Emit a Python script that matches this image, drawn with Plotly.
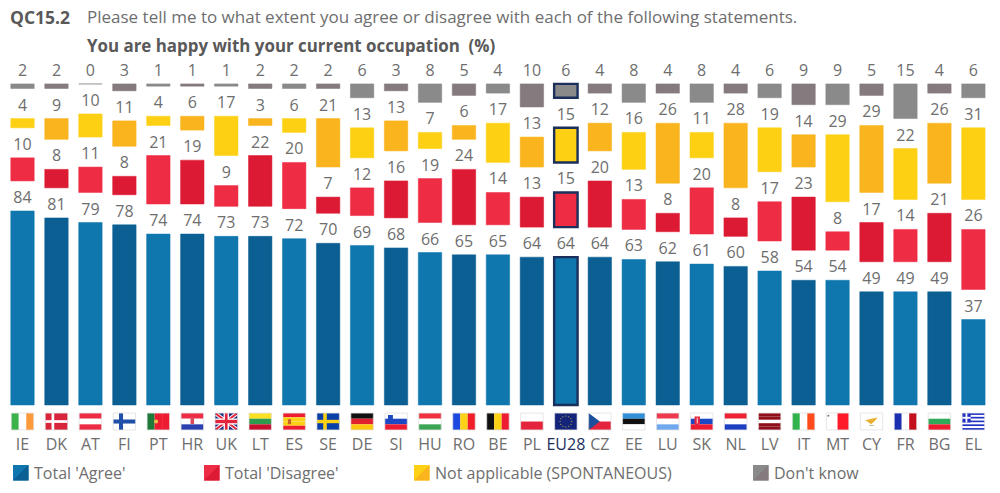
import math
import plotly.graph_objects as go

countries = ["IE","DK","AT","FI","PT","HR","UK","LT","ES","SE","DE","SI","HU","RO","BE","PL","EU28","CZ","EE","LU","SK","NL","LV","IT","MT","CY","FR","BG","EL"]
agree    = [84,81,79,78,74,74,73,73,72,70,69,68,66,65,65,64,64,64,63,62,61,60,58,54,54,49,49,49,37]
disagree = [10,8,11,8,21,19,9,22,20,7,12,16,19,24,14,13,15,20,13,8,20,8,17,23,8,17,14,21,26]
not_app  = [4,9,10,11,4,6,17,3,6,21,13,13,7,6,17,13,15,12,16,26,11,28,19,14,29,29,22,26,31]
dont_know= [2,2,0,3,1,1,1,2,2,2,6,3,8,5,4,10,6,4,8,4,8,4,6,9,9,5,15,4,6]

series_names = ["Total 'Agree'", "Total 'Disagree'", "Not applicable (SPONTANEOUS)", "Don't know"]
light = ["#0f76ae", "#ee2c44", "#fdd014", "#8a8a8a"]
dark  = ["#0b5f92", "#dc1a33", "#f9b41e", "#857a7e"]
EU_COL = "#1b2f5c"
TXT = "#6e6e6e"
FONT = "Open Sans"
GAP = 13.0
PX_PER_UNIT = 2.31
BASE_PX = 405
W, H = 1000, 493
SPACING = 33.96
FIRST_X = 22.5
BAR_W = 0.69

flags = {
 "IE":("v",["#3cb34a","#ffffff","#ff9a3c"]), "DK":("h",["#d9253b"]), "AT":("h",["#ee2b45","#ffffff","#ee2b45"]),
 "FI":("h",["#ffffff"]), "PT":("v",["#1f7a3a","#ee1c30","#ee1c30"]), "HR":("h",["#ee2b45","#ffffff","#2a3fb0"]),
 "UK":("h",["#1a2a7c"]), "LT":("h",["#fbe122","#2e9c4e","#c8102e"]), "ES":("h",["#ee1c30","#fbd116","#fbd116","#ee1c30"]),
 "SE":("h",["#0a3fa8"]), "DE":("h",["#111111","#e0202e","#fdc70c"]), "SI":("h",["#ffffff","#1c48c4","#ee1c30"]),
 "HU":("h",["#f0303c","#ffffff","#3aa655"]), "RO":("v",["#1c48e0","#fdd116","#f01c28"]), "BE":("v",["#111111","#fdd116","#ee1c30"]),
 "PL":("h",["#ffffff","#e4233d"]), "EU28":("h",["#14247a"]), "CZ":("h",["#ffffff","#e4233d"]),
 "EE":("h",["#2f8fd8","#111111","#ffffff"]), "LU":("h",["#ee3a4f","#ffffff","#6fa8ee"]), "SK":("h",["#ffffff","#1c48c4","#ee1c30"]),
 "NL":("h",["#ee2233","#ffffff","#1c3fc4"]), "LV":("h",["#8f0f1a","#8f0f1a","#ffffff","#8f0f1a","#8f0f1a"]),
 "IT":("v",["#2fb34a","#ffffff","#ff4a1c"]), "MT":("v",["#ffffff","#ff1c28"]), "CY":("h",["#ffffff"]),
 "FR":("v",["#1c2fb0","#ffffff","#c4101c"]), "BG":("h",["#ffffff","#2eab58","#ee1c30"]),
 "EL":("h",["#2230c4","#ffffff","#2230c4","#ffffff","#2230c4","#ffffff","#2230c4","#ffffff","#2230c4"]),
}

series = [agree, disagree, not_app, dont_know]
n = len(countries)
xs = list(range(n))
eu = countries.index("EU28")

fig = go.Figure()
bases = [0] * n
for k, vals in enumerate(series):
    cols = [light[k] if i % 2 == 0 else dark[k] for i in range(n)]
    lcols = [EU_COL if i == eu else ("#b4b4b4" if vals[i] == 0 else cols[i]) for i in range(n)]
    lw = [2.4 if i == eu else (1 if vals[i] == 0 else 0.5) for i in range(n)]
    fig.add_trace(go.Bar(
        x=xs, y=vals, base=bases, width=BAR_W, name=series_names[k], showlegend=False,
        marker=dict(color=cols, line=dict(color=lcols, width=lw)),
        text=vals, textposition="outside", textangle=0, constraintext="none", cliponaxis=False,
        textfont=dict(family=FONT, size=16, color=TXT), hoverinfo="skip",
    ))
    bases = [b + v + GAP for b, v in zip(bases, vals)]

# ----- flags, drawn in data units under the baseline
FL_TOP = -3.5
FL_BOT = -10.8
FL_W = 0.66
shapes = []

def fx(i, u):
    return i - FL_W / 2 + u * FL_W

def fy(v):
    return FL_TOP + v * (FL_BOT - FL_TOP)

def rect(i, u0, v0, u1, v1, col):
    shapes.append(dict(type="rect", xref="x", yref="y", x0=fx(i, u0), x1=fx(i, u1), y0=fy(v0), y1=fy(v1),
                       fillcolor=col, line=dict(width=0), layer="above"))

def poly(i, pts, col):
    p = "M" + " L".join(f"{fx(i,u):.4f},{fy(v):.4f}" for u, v in pts) + " Z"
    shapes.append(dict(type="path", xref="x", yref="y", path=p, fillcolor=col, line=dict(width=0), layer="above"))

def dot(i, u, v, ru, col):
    rv = ru * 1.25
    shapes.append(dict(type="circle", xref="x", yref="y", x0=fx(i, u-ru), x1=fx(i, u+ru), y0=fy(v-rv), y1=fy(v+rv),
                       fillcolor=col, line=dict(width=0), layer="above"))

for i, c in enumerate(countries):
    orient, cols = flags[c]
    m = len(cols)
    for j, col in enumerate(cols):
        if orient == "h":
            rect(i, 0, j/m, 1, (j+1)/m, col)
        else:
            rect(i, j/m, 0, (j+1)/m, 1, col)
    if c == "DK":
        rect(i, 0.28, 0, 0.40, 1, "#ffffff"); rect(i, 0, 0.42, 1, 0.58, "#ffffff")
    if c == "FI":
        rect(i, 0.26, 0, 0.44, 1, "#1f4fa8"); rect(i, 0, 0.38, 1, 0.62, "#1f4fa8")
    if c == "SE":
        rect(i, 0.28, 0, 0.44, 1, "#fdd116"); rect(i, 0, 0.40, 1, 0.60, "#fdd116")
    if c == "UK":
        for w, col in ((0.14, "#ffffff"), (0.07, "#e4233d")):
            poly(i, [(0, w), (w, 0), (1, 1-w), (1-w, 1)], col)
            poly(i, [(1, w), (1-w, 0), (0, 1-w), (w, 1)], col)
        rect(i, 0.38, 0, 0.62, 1, "#ffffff"); rect(i, 0, 0.32, 1, 0.68, "#ffffff")
        rect(i, 0.44, 0, 0.56, 1, "#e4233d"); rect(i, 0, 0.40, 1, 0.60, "#e4233d")
    if c == "PT":
        dot(i, 0.40, 0.5, 0.09, "#e8c04a")
    if c == "HR":
        rect(i, 0.42, 0.25, 0.58, 0.65, "#d84a5a")
    if c == "ES":
        rect(i, 0.22, 0.36, 0.36, 0.66, "#c8602a")
    if c == "SI":
        poly(i, [(0.14, 0.12), (0.36, 0.12), (0.36, 0.42), (0.25, 0.56), (0.14, 0.42)], "#1c48c4")
    if c == "SK":
        poly(i, [(0.18, 0.2), (0.42, 0.2), (0.42, 0.62), (0.30, 0.78), (0.18, 0.62)], "#e4233d")
        rect(i, 0.28, 0.28, 0.32, 0.62, "#ffffff")
    if c == "CZ":
        poly(i, [(0, 0), (0.5, 0.5), (0, 1)], "#1c4f9c")
    if c == "MT":
        dot(i, 0.09, 0.16, 0.045, "#777777")
    if c == "CY":
        poly(i, [(0.22, 0.42), (0.55, 0.32), (0.78, 0.26), (0.62, 0.5), (0.48, 0.66), (0.36, 0.54)], "#e8b030")
        rect(i, 0.4, 0.70, 0.6, 0.76, "#a8c090")
    if c == "EL":
        rect(i, 0, 0, 0.38, 5/9, "#2230c4")
        rect(i, 0.15, 0, 0.23, 5/9, "#ffffff"); rect(i, 0, 2/9, 0.38, 3/9, "#ffffff")
    if c == "EU28":
        for s in range(12):
            t = 2 * math.pi * s / 12
            dot(i, 0.5 + 0.26*math.cos(t), 0.5 + 0.33*math.sin(t), 0.025, "#e8d040")
    shapes.append(dict(type="rect", xref="x", yref="y", x0=fx(i, 0), x1=fx(i, 1), y0=fy(0), y1=fy(1),
                       line=dict(color="#dcdcdc", width=0.7), fillcolor="rgba(0,0,0,0)", layer="above"))

# ----- hand-placed legend and titles, in page fractions
def px(x):
    return x / W

def py(y):
    return 1 - y / H

legend_x = [13, 204, 414, 753]
legend_size = 15.5
annotations = []
for k, name in enumerate(series_names):
    x0, y0 = legend_x[k], 465
    x1, y1 = x0 + legend_size, y0 + legend_size
    shapes.append(dict(type="rect", xref="paper", yref="paper", x0=px(x0), x1=px(x1), y0=py(y0), y1=py(y1),
                       fillcolor=light[k], line=dict(width=0), layer="above"))
    shapes.append(dict(type="path", xref="paper", yref="paper",
                       path=f"M{px(x1):.5f},{py(y0):.5f} L{px(x1):.5f},{py(y1):.5f} L{px(x0):.5f},{py(y1):.5f} Z",
                       fillcolor=dark[k], line=dict(width=0), layer="above"))
    annotations.append(dict(xref="paper", yref="paper", x=px(x1 + 3.5), y=py(473), text=name, showarrow=False,
                            xanchor="left", yanchor="middle", font=dict(family=FONT, size=16, color=TXT)))

annotations += [
    dict(xref="paper", yref="paper", x=px(8), y=py(17), text="<b>QC15.2</b>", showarrow=False, xanchor="left", yanchor="middle",
         font=dict(family=FONT, size=17.5, color="#595959")),
    dict(xref="paper", yref="paper", x=px(84.5), y=py(17), text="Please tell me to what extent you agree or disagree with each of the following statements.",
         showarrow=False, xanchor="left", yanchor="middle", font=dict(family=FONT, size=17, color=TXT)),
    dict(xref="paper", yref="paper", x=px(84.5), y=py(45), text="<b>You are happy with your current occupation  (%)</b>",
         showarrow=False, xanchor="left", yanchor="middle", font=dict(family=FONT, size=16.9, color="#595959")),
]

ticktext = [f'<span style="color:{EU_COL}">{c}</span>' if c == "EU28" else c for c in countries]
PLOT_TOP, PLOT_BOT = 60, 433
fig.update_layout(
    width=W, height=H, autosize=False, margin=dict(l=0, r=0, t=0, b=0),
    paper_bgcolor="white", plot_bgcolor="white", barmode="overlay", showlegend=False,
    xaxis=dict(range=[-FIRST_X / SPACING, (W - FIRST_X) / SPACING], tickvals=xs, ticktext=ticktext,
               tickfont=dict(family=FONT, size=16, color=TXT), showgrid=False, zeroline=False,
               showline=False, ticks="", ticklen=0, tickangle=0, automargin=False),
    yaxis=dict(domain=[1 - PLOT_BOT / H, 1 - PLOT_TOP / H],
               range=[(BASE_PX - PLOT_BOT) / PX_PER_UNIT, (BASE_PX - PLOT_TOP) / PX_PER_UNIT],
               visible=False, showgrid=False, zeroline=False),
    shapes=shapes, annotations=annotations,
)
fig.write_html("out.html", config={"displayModeBar": False},
               post_script="document.body.style.margin='0';document.documentElement.style.overflow='hidden';")
